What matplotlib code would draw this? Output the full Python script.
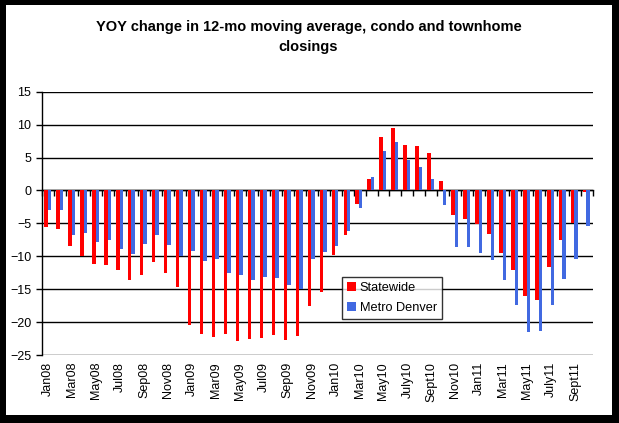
import matplotlib
matplotlib.use("Agg")
import matplotlib.pyplot as plt
import numpy as np
from matplotlib.patches import Rectangle

months = ["Jan08","Feb08","Mar08","Apr08","May08","Jun08","Jul08","Aug08","Sep08","Oct08","Nov08","Dec08",
          "Jan09","Feb09","Mar09","Apr09","May09","Jun09","Jul09","Aug09","Sep09","Oct09","Nov09","Dec09",
          "Jan10","Feb10","Mar10","Apr10","May10","Jun10","July10","Aug10","Sept10","Oct10","Nov10","Dec10",
          "Jan11","Feb11","Mar11","Apr11","May11","Jun11","July11","Aug11","Sept11","Oct11"]

statewide = [-5.5, -5.9, -8.4, -10.0, -11.2, -11.3, -12.1, -13.6, -12.9, -10.9, -12.6, -14.7,
             -20.5, -21.8, -22.2, -21.8, -22.8, -22.5, -22.4, -21.9, -22.7, -22.1, -17.5, -15.5,
             -9.8, -6.7, -2.0, 1.7, 8.1, 9.5, 6.9, 6.7, 5.7, 1.4, -3.8, -4.3,
             -5.1, -6.6, -9.5, -12.1, -16.0, -16.6, -11.6, -7.5, -5.0, -0.3]

metro_denver = [-3.0, -3.0, -6.7, -6.5, -7.9, -7.6, -8.9, -9.6, -8.1, -6.7, -8.3, -10.0,
                -9.2, -10.7, -10.4, -12.5, -12.8, -13.6, -13.1, -13.3, -14.3, -15.0, -10.4, -9.3,
                -8.4, -6.1, -2.6, 2.0, 6.0, 7.3, 4.6, 3.5, 1.7, -2.2, -8.6, -8.6,
                -9.5, -10.5, -13.6, -17.4, -21.5, -21.3, -17.4, -13.4, -10.4, -5.4]

series_names = ["Statewide", "Metro Denver"]
yticks = [-25, -20, -15, -10, -5, 0, 5, 10, 15]
title = "YOY change in 12-mo moving average, condo and townhome\nclosings"

plt.rcParams['font.family'] = ['Liberation Sans', 'DejaVu Sans']

W, H = 619, 423
fig = plt.figure(figsize=(W/100, H/100), dpi=100, facecolor='black')
fig.patches.append(Rectangle((6/W, 1-415/H), (612-6)/W, (415-5)/H, facecolor='white',
                             edgecolor='none', transform=fig.transFigure, zorder=-1))

ax = fig.add_axes([42.3/W, 1-355/H, (593-42.3)/W, (355-91.7)/H])
x = np.arange(len(months))
w = 0.29
ax.bar(x - w/2 - 0.05, statewide, w, color='#FF0000', label=series_names[0], zorder=3)
ax.bar(x + w/2 - 0.05, metro_denver, w, color='#4169E1', label=series_names[1], zorder=3)

ax.set_xlim(-0.5, len(months) - 0.5)
ax.set_ylim(-25, 15)
ax.set_yticks(yticks)
ax.yaxis.grid(True, color='black', linewidth=1)
ax.set_axisbelow(True)
for s in ['top', 'right', 'bottom']:
    ax.spines[s].set_visible(False)
ax.spines['left'].set_linewidth(1)
ax.tick_params(axis='y', direction='out', length=4, width=1, labelsize=9, pad=4)

ax.set_xticks(x[::2])
ax.set_xticklabels(months[::2], rotation=90, fontsize=9)
ax.tick_params(axis='x', length=0, pad=5)

sec = ax.secondary_xaxis(0.625)
sec.set_xticks(np.arange(-0.5, len(months), 1.0))
sec.set_xticklabels([])
sec.tick_params(direction='in', length=4, width=1)
sec.spines['bottom'].set_linewidth(1)
sec.spines['top'].set_linewidth(1)

leg = ax.legend(loc='upper left', bbox_to_anchor=((341.7-42.3)/(593-42.3), (355-277)/(355-91.7)),
                frameon=True, fancybox=False, shadow=False, fontsize=9.2,
                handlelength=0.7, handleheight=0.7, handletextpad=0.3, borderpad=0.4,
                labelspacing=0.6, borderaxespad=0)
leg.get_frame().set_edgecolor('black')
leg.get_frame().set_linewidth(1)

fig.text(308.5/W, 1-37/H, title, ha='center', va='center', fontsize=10.5, fontweight='bold',
         linespacing=1.5)

fig.savefig('out.png', dpi=100, facecolor=fig.get_facecolor())
